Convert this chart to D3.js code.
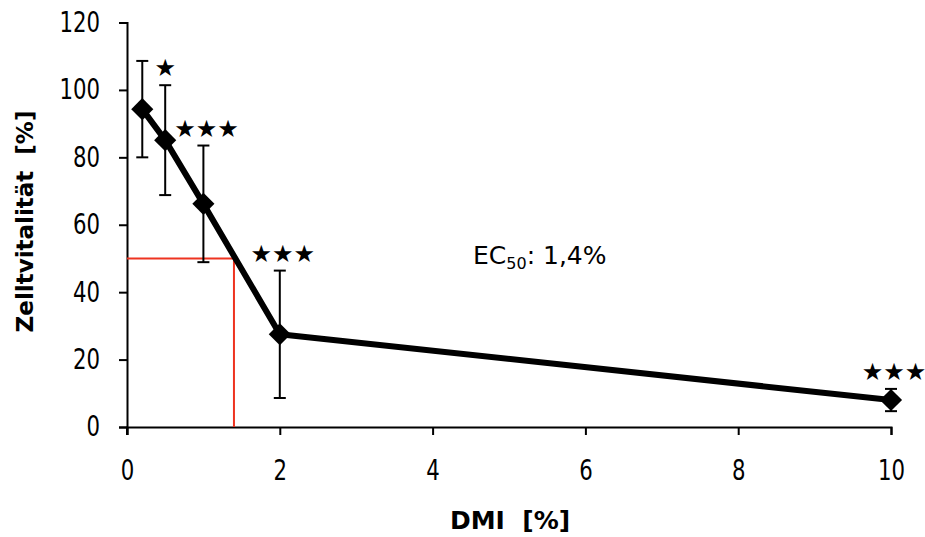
<!DOCTYPE html>
<html><head><meta charset="utf-8">
<script src="https://cdn.jsdelivr.net/npm/d3@7"></script>
<style>body{margin:0;background:#fff} text{white-space:pre}</style>
</head><body>
<script>
const doses = [0.2, 0.5, 1, 2, 10];
const viability = [94.3, 85.1, 66.2, 27.5, 8.0];
const errors = [14.3, 16.3, 17.3, 18.9, 3.3];
const stars = ["", "★", "★★★", "★★★", "★★★"];
const xTicks = [0, 2, 4, 6, 8, 10];
const yTicks = [0, 20, 40, 60, 80, 100, 120];
const ec50 = 1.4, ecLevel = 50;
const ecLabel = "EC", ecSub = "50", ecRest = ": 1,4%";
const xTitle = "DMI  [%]", yTitle = "Zelltvitalität  [%]";

const W = 925, H = 537;
const m = {l: 127, r: 34, t: 22.5, b: 110};
const font = "DejaVu Sans, Verdana, sans-serif";
const sx = 0.76;
const svg = d3.select("body").append("svg").attr("width", W).attr("height", H);
const x = d3.scaleLinear().domain([0, 10]).range([m.l, W - m.r]);
const y = d3.scaleLinear().domain([0, 120]).range([H - m.b, m.t]);

// axes
const xAxis = svg.append("g").attr("transform", `translate(0,${y(0)})`)
  .call(d3.axisBottom(x).tickValues(xTicks).tickSize(8).tickPadding(25).tickFormat(d3.format("d")));
const yAxis = svg.append("g").attr("transform", `translate(${x(0)},0)`)
  .call(d3.axisLeft(y).tickValues(yTicks).tickSize(8).tickPadding(19).tickFormat(d3.format("d")));
[xAxis, yAxis].forEach(a => {
  a.select(".domain").attr("stroke", "#000").attr("stroke-width", 2);
  a.selectAll(".tick line").attr("stroke", "#000").attr("stroke-width", 2);
  a.selectAll("text").attr("font-family", font).attr("font-size", 28).attr("fill", "#000")
    .each(function() {
      const t = d3.select(this);
      const xv = +t.attr("x") || 0;
      t.attr("x", xv / sx).attr("transform", `scale(${sx},1)`);
    });
});
svg.append("line").attr("x1", x(0)).attr("x2", x(0)).attr("y1", y(0)).attr("y2", y(0) + 8)
  .attr("stroke", "#000").attr("stroke-width", 2);

// EC50 lines
svg.append("path")
  .attr("d", `M${x(0)},${y(ecLevel)}H${x(ec50)}V${y(0)}`)
  .attr("fill", "none").attr("stroke", "#ee3320").attr("stroke-width", 2);

const data = doses.map((d, i) => ({x: d, y: viability[i], e: errors[i], s: stars[i]}));

// error bars
const eb = svg.append("g").attr("stroke", "#000").attr("stroke-width", 2);
data.forEach(d => {
  eb.append("line").attr("x1", x(d.x)).attr("x2", x(d.x)).attr("y1", y(d.y + d.e)).attr("y2", y(d.y - d.e));
  [d.y + d.e, d.y - d.e].forEach(v => eb.append("line")
    .attr("x1", x(d.x) - 6).attr("x2", x(d.x) + 6).attr("y1", y(v)).attr("y2", y(v)));
});

// line
svg.append("path").datum(data)
  .attr("d", d3.line().x(d => x(d.x)).y(d => y(d.y)))
  .attr("fill", "none").attr("stroke", "#000").attr("stroke-width", 6).attr("stroke-linejoin", "round");

// diamonds (rotated squares)
svg.selectAll(".pt").data(data).enter().append("path")
  .attr("d", d3.symbol().type(d3.symbolSquare).size(245))
  .attr("transform", d => `translate(${x(d.x)},${y(d.y)}) rotate(45)`)
  .attr("fill", "#000");

// stars
svg.selectAll(".star").data(data.filter(d => d.s)).enter().append("text")
  .attr("x", d => x(d.x) + (d.s.length > 1 ? 3 : 0))
  .attr("y", d => y(d.y + d.e) - 9)
  .attr("text-anchor", "middle")
  .attr("font-family", font).attr("font-size", 24).attr("fill", "#000")
  .text(d => d.s);

// EC50 label
const ec = svg.append("text").attr("x", 473).attr("y", 264)
  .attr("font-family", font).attr("font-size", 25).attr("fill", "#000");
ec.append("tspan").text(ecLabel);
ec.append("tspan").attr("font-size", 16).attr("dy", 5).text(ecSub);
ec.append("tspan").attr("dy", -5).text(ecRest);

// titles
svg.append("text").attr("x", 510).attr("y", 529).attr("text-anchor", "middle")
  .attr("font-family", font).attr("font-weight", "bold").attr("font-size", 25).text(xTitle);
svg.append("text").attr("transform", `translate(33,221.5) rotate(-90)`).attr("text-anchor", "middle")
  .attr("font-family", font).attr("font-weight", "bold").attr("font-size", 23).text(yTitle);
</script>
</body></html>
